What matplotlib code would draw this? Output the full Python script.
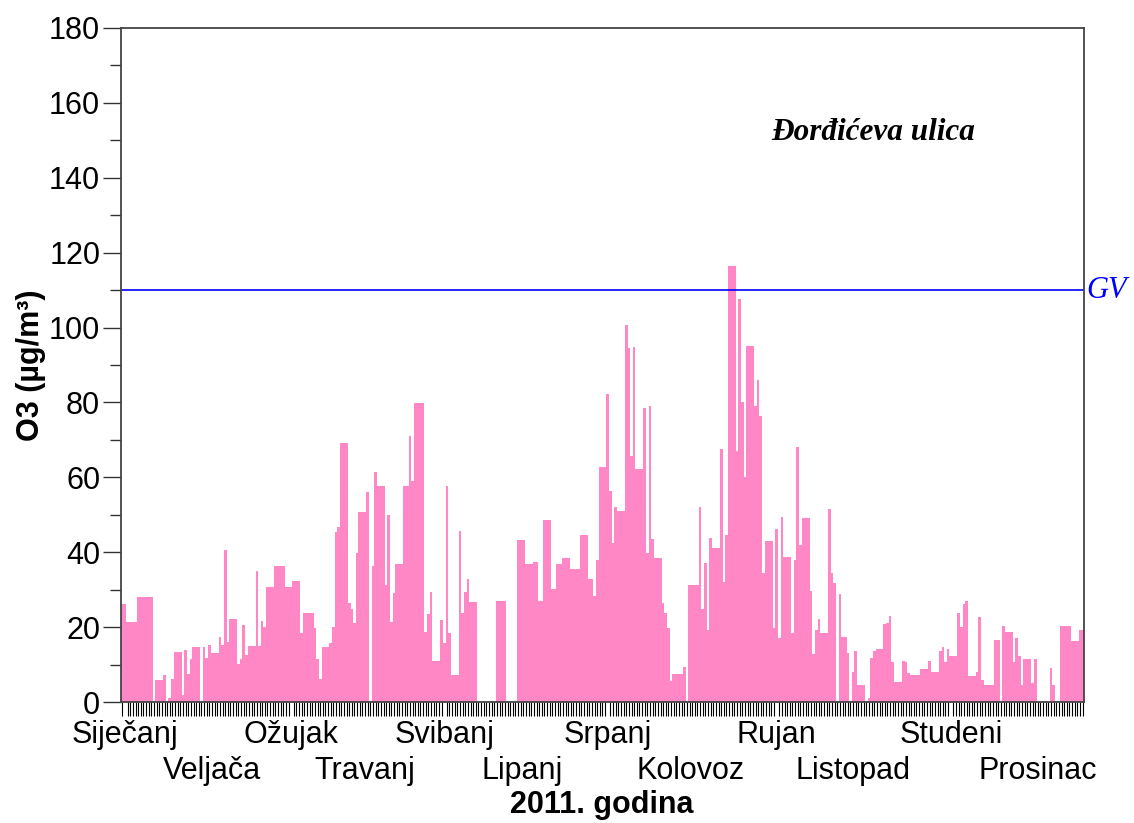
import matplotlib
matplotlib.use("Agg")
import matplotlib.pyplot as plt
import numpy as np

# daily O3 values (ug/m3), one list per month
sij = [26.3, 26.3, 21.5, 21.5, 21.5, 21.5, 28.0, 28.0, 28.0, 28.0, 28.0, 28.0, 0, 5.9, 5.9, 5.9,
       7.1, 0, 1.2, 6.1, 13.3, 13.3, 13.3, 2.0, 13.9, 7.5, 11.4, 14.6, 14.6, 14.6, 0]
velj = [14.6, 11.7, 15.2, 13.0, 13.0, 13.0, 17.4, 15.2, 40.6, 16.0, 22.1, 22.1, 22.1, 10.1,
        11.6, 20.5, 12.6, 15.0, 15.0, 15.0, 35.1, 14.9, 21.7, 20.1, 30.8, 30.8, 30.8, 36.4]
ozu = [36.4, 36.4, 36.4, 30.8, 30.8, 30.8, 32.2, 32.2, 32.2, 18.5, 23.7, 23.7, 23.7, 23.7, 19.8,
       11.4, 6.1, 14.6, 14.6, 14.6, 15.8, 20.1, 45.4, 46.7, 69.1, 69.1, 69.1, 26.4, 24.8, 21.2, 39.7]
tra = [50.7, 50.7, 50.7, 56.2, 0, 36.2, 61.3, 57.8, 57.8, 57.8, 31.2, 50.0, 21.4, 29.0, 36.8,
       36.8, 36.8, 57.8, 57.8, 71.1, 59.1, 79.9, 79.9, 79.9, 79.9, 18.8, 23.4, 29.3, 11.0, 11.0]
svi = [11.0, 21.9, 15.7, 57.8, 18.3, 7.2, 7.2, 7.2, 45.7, 23.7, 29.3, 32.8, 26.6, 26.6, 26.6,
       0, 0, 0, 0, 0, 0, 0, 27.0, 27.0, 27.0, 27.0, 0, 0, 0, 0, 43.2]
lip = [43.2, 43.2, 36.8, 36.8, 36.8, 37.3, 37.3, 27.0, 27.0, 48.7, 48.7, 48.7, 30.2, 30.2, 36.8,
       36.8, 38.4, 38.4, 38.4, 35.4, 35.4, 35.4, 35.4, 44.5, 44.5, 44.5, 32.8, 32.8, 28.3, 37.9]
srp = [62.7, 62.7, 62.7, 82.2, 56.4, 42.5, 52.2, 51.0, 51.0, 51.0, 100.7, 94.5, 65.7, 94.7, 62.3,
       62.3, 62.3, 78.6, 39.9, 79.1, 43.5, 38.4, 38.4, 38.4, 26.4, 23.7, 19.7, 5.6, 7.5, 7.5, 7.5]
kol = [7.5, 9.4, 0, 31.3, 31.3, 31.3, 31.3, 52.0, 24.8, 37.0, 19.2, 43.9, 41.0, 41.0, 41.0, 67.6,
       32.1, 44.6, 116.5, 116.5, 116.5, 67.0, 107.6, 80.2, 60.2, 95.2, 95.2, 95.2, 79.1, 86.1, 76.4]
ruj = [34.4, 42.9, 42.9, 42.9, 19.7, 46.1, 17.0, 49.3, 38.6, 38.6, 38.6, 18.5, 38.0, 68.2, 41.9,
       49.1, 49.1, 49.1, 29.6, 12.7, 19.2, 22.1, 18.5, 18.5, 18.5, 51.6, 34.4, 31.9, 0, 28.8]
lis = [17.4, 17.4, 13.0, 0, 8.1, 13.6, 4.5, 4.5, 4.5, 0, 1.0, 11.8, 13.7, 14.1, 14.1, 14.1, 20.8,
       21.0, 23.1, 10.8, 5.3, 5.3, 5.3, 11.0, 10.6, 7.8, 7.2, 7.2, 7.2, 7.2, 8.7]
stu = [8.7, 8.7, 11.0, 8.1, 8.1, 8.1, 13.6, 14.6, 10.8, 14.1, 12.3, 12.3, 12.3, 23.7, 20.1, 26.2,
       27.0, 6.9, 6.9, 6.9, 8.1, 22.7, 5.9, 4.5, 4.5, 4.5, 4.5, 16.6, 16.6, 0]
pro = [20.4, 18.8, 18.8, 18.8, 10.8, 17.2, 12.3, 4.5, 11.4, 11.4, 11.4, 5.0, 11.4, 0, 0, 0, 0, 0,
       9.2, 4.5, 0, 0, 20.4, 20.4, 20.4, 20.4, 16.2, 16.2, 16.2, 19.1, 19.1]

mjeseci = ['Siječanj', 'Veljača', 'Ožujak', 'Travanj', 'Svibanj', 'Lipanj',
           'Srpanj', 'Kolovoz', 'Rujan', 'Listopad', 'Studeni', 'Prosinac']
gv = 110

# where the month names sit along the day axis (layout)
label_days = [1, 34, 64, 92, 122, 151.5, 184, 215.5, 248, 277, 314, 347]

months = [sij, velj, ozu, tra, svi, lip, srp, kol, ruj, lis, stu, pro]
o3 = np.concatenate([np.array(m, dtype=float) for m in months])
days = np.arange(len(o3))

plt.rcParams['font.family'] = ['Liberation Sans', 'DejaVu Sans']

fig = plt.figure(figsize=(11.34, 8.23), dpi=100)
ax = fig.add_axes([0.1067, 0.147, 0.8492, 0.819])

ax.bar(days, o3, width=1.0, color='#ff87c5', edgecolor='none')
ax.axhline(gv, color='#0000ff', lw=1.2)

ax.set_xlim(-0.5, len(o3) - 0.5)
ax.set_ylim(0, 180)
ax.set_yticks(np.arange(0, 181, 20))
ax.set_yticks(np.arange(0, 181, 10), minor=True)
ax.tick_params(axis='y', which='major', length=13, width=1, labelsize=22, pad=2, color='#333333')
ax.tick_params(axis='y', which='minor', length=8, width=1, color='#333333')

# first row: Jan, Mar, May ... as tick labels; second row: Feb, Apr ... as texts below
ax.set_xticks(label_days[::2])
ax.set_xticklabels(mjeseci[::2], fontsize=22)
ax.set_xticks(days, minor=True)
ax.tick_params(axis='x', which='major', length=0, pad=13)
ax.tick_params(axis='x', which='minor', length=10, width=0.8)
for d, m in zip(label_days[1::2], mjeseci[1::2]):
    ax.text(d, -0.102, m, transform=ax.get_xaxis_transform(), fontsize=22,
            ha='center', va='center')

for s in ax.spines.values():
    s.set_color('#444444')
    s.set_linewidth(1.3)

ax.set_ylabel('O3 (µg/m³)', fontsize=22, fontweight='bold', labelpad=2)
fig.text(0.531, 1 - 805 / 823, '2011. godina', fontsize=22, fontweight='bold',
         ha='center', va='center')

ax.text(246, 152, 'Đorđićeva ulica', fontsize=22.5, fontweight='bold', fontstyle='italic',
        family='Liberation Serif', ha='left', va='center')
ax.text(1.002, gv, 'GV', transform=ax.get_yaxis_transform(), fontsize=22, fontstyle='italic',
        family='Liberation Serif', color='#0000ff', ha='left', va='center')

fig.savefig('out.png', dpi=100)
